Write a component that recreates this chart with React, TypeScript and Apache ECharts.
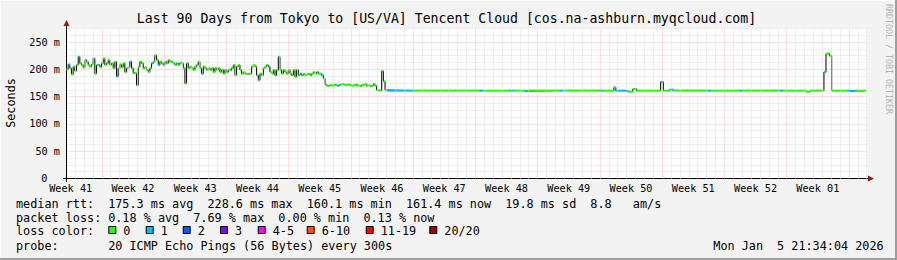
import React, { useEffect, useRef } from "react";
import * as echarts from "echarts";

// ---------- texts ----------
const TITLE = "Last 90 Days from Tokyo to [US/VA] Tencent Cloud [cos.na-ashburn.myqcloud.com]";
const Y_UNIT_LABEL = "Seconds";
const WATERMARK = "RRDTOOL / TOBI OETIKER";
const WEEK_LABELS = [
  "Week 41", "Week 42", "Week 43", "Week 44", "Week 45", "Week 46", "Week 47",
  "Week 48", "Week 49", "Week 50", "Week 51", "Week 52", "Week 01",
];
const Y_MAX_MS = 275;
const Y_MINOR_STEP_MS = 12.5;
const Y_LABEL_STEP_MS = 50;

// ---------- time base (days from the left edge of the 90-day window) ----------
const SPAN_DAYS = 90;
const WEEK42_START_DAY = 3.97; // first Monday boundary inside the window
const SAMPLE_STEP_DAYS = 0.1875; // 4.5 h consolidated samples
const LAST_SAMPLE_END_DAY = 89.9;

// ---------- median RTT (ms), one value per sample ----------
const RTT_WEEK41_42 = [
  200, 209, 202, 191, 205, 197, 208, 223, 211, 208, 203, 217, 214, 208, 205, 209, 220, 192,
  208, 208, 204, 211, 220, 208, 211, 217, 208, 211, 202, 214, 187, 202, 209, 204, 211, 195,
  202, 204, 214, 202, 193, 193, 171, 204, 214, 211, 202, 204, 199, 195, 202, 211, 214,
];
const RTT_WEEK43_44 = [
  226, 217, 208, 214, 211, 208, 214, 211, 217, 214, 214, 211, 208, 211, 208, 212, 211, 202,
  174, 211, 202, 205, 202, 199, 205, 208, 214, 202, 192, 205, 202, 199, 202, 199, 202, 195,
  202, 199, 202, 195, 199, 192, 199, 195, 199, 198, 202, 208, 189, 205, 208, 199,
];
const RTT_WEEK44_45 = [
  192, 195, 192, 191, 192, 192, 205, 208, 205, 189, 180, 192, 189, 202, 205, 208, 205, 195,
  192, 199, 189, 199, 223, 199, 192, 199, 195, 192, 199, 192, 189, 199, 186, 199, 189, 192,
  189, 191, 189, 191, 192, 189, 192, 195, 192, 195, 192, 192, 189, 183,
];
const RTT_WEEK45_46 = [
  172, 170, 169, 171, 170, 172, 171, 170, 171, 172, 173, 172, 171, 172, 172, 171, 170, 171,
  172, 170, 171, 169, 171, 172, 173, 170, 171, 169, 170, 173, 170,
  162, 161, 161, 197, 178, 162,
];
// sample indices (in the samples above) whose loss was 1/20
const LOSS1_SAMPLE_INDEX = [1, 7, 16, 19, 30, 38, 42, 51, 55, 58, 64, 81, 96, 121, 125, 127, 140, 150, 153, 162, 163];

// ---------- later, mostly flat period: change points ----------
const FLAT_DAYS = [
  36.0, 38.93, 46.46, 46.8, 49.84, 50.17, 51.52, 51.86, 55.46, 55.8, 59.96, 60.3,
  61.54, 61.76, 62.88, 63.1, 63.67, 64.1, 66.8, 67.1, 67.84, 68.18, 72.1, 72.45,
  75.7, 76.05, 80.2, 80.55, 83.14, 83.59, 85.16, 85.39, 85.78, 86.03, 87.86, 88.1, 88.65,
];
const FLAT_RTT = [
  161, 161, 161, 161, 161, 161, 160, 161, 161, 161, 161, 161,
  167, 161, 160, 159, 164, 161, 177, 161, 163, 161, 161, 161,
  161, 161, 161, 161, 159, 161, 195, 228.6, 225, 161, 161, 160, 161,
];
const FLAT_LOSS = [
  1, 0, 1, 0, 1, 0, 1, 0, 1, 0, 1, 0,
  0, 1, 1, 0, 0, 0, 1, 0, 1, 0, 1, 0,
  1, 0, 1, 0, 0, 0, 1, 0, 0, 0, 1, 1, 0,
];

// ---------- legend ----------
const LOSS_COLORS = ["#26ff00", "#00b8ff", "#0059ff", "#7e00ff", "#ff00ff", "#ff5500", "#ff0000", "#a10000"];
const LOSS_LABELS = ["0", "1", "2", "3", "4-5", "6-10", "11-19", "20/20"];
const RTT_STATS = ["175.3 ms avg", "228.6 ms max", "160.1 ms min", "161.4 ms now", "19.8 ms sd"];
const RTT_AMS = "8.8";
const LOSS_STATS = ["0.18 % avg", "7.69 % max", "0.00 % min", "0.13 % now"];
const PROBE_TEXT = "20 ICMP Echo Pings (56 Bytes) every 300s";
const DATE_PARTS = ["Mon Jan", "5 21:34:04 2026"];

const MONO = '"DejaVu Sans Mono", monospace';

export default function App() {
  const ref = useRef<HTMLDivElement>(null);

  useEffect(() => {
    if (!ref.current) return;
    const chart = echarts.init(ref.current, undefined, { renderer: "svg" });

    // samples
    const noisy = [...RTT_WEEK41_42, ...RTT_WEEK43_44, ...RTT_WEEK44_45, ...RTT_WEEK45_46];
    const samples: { t: number; v: number; loss: number }[] = [];
    noisy.forEach((v, i) =>
      samples.push({ t: i * SAMPLE_STEP_DAYS, v, loss: LOSS1_SAMPLE_INDEX.includes(i) ? 1 : 0 })
    );
    FLAT_DAYS.forEach((t, i) => samples.push({ t, v: FLAT_RTT[i], loss: FLAT_LOSS[i] }));

    const segs = samples.map((s, i) => [
      s.t,
      i + 1 < samples.length ? samples[i + 1].t : LAST_SAMPLE_END_DAY,
      s.v,
      s.loss,
    ]);
    const stepData = samples.map((s) => [s.t, s.v]);
    stepData.push([LAST_SAMPLE_END_DAY, samples[samples.length - 1].v]);

    // vertical grid (daily minor, weekly major)
    const minorColor = "#dedede";
    const majorColor = "#f8bcbc";
    const vLines: any[] = [];
    for (let n = 0; ; n++) {
      const d = WEEK42_START_DAY - 3 + n;
      if (d > SPAN_DAYS) break;
      const major = (n - 3) % 7 === 0;
      vLines.push({
        xAxis: d,
        lineStyle: { color: major ? majorColor : minorColor, type: [1, 1], width: 1 },
      });
    }
    const weekLabelDays = WEEK_LABELS.map((_, k) => WEEK42_START_DAY - 3.5 + 7 * k);

    // legend graphics
    const CH = 7.09;
    const LX = 16;
    const legendFont = `11.8px ${MONO}`;
    const txt = (text: string, x: number, y: number, extra: any = {}) => ({
      type: "text",
      x,
      y,
      silent: true,
      style: {
        text,
        font: legendFont,
        fill: "#000",
        textAlign: "left",
        textVerticalAlign: "middle",
        align: "left",
        verticalAlign: "middle",
        ...extra,
      },
    });
    const L1 = 204, L2 = 218.3, L3 = 231.3, L4 = 246.3;
    const graphics: any[] = [];
    // frame
    graphics.push({ type: "rect", shape: { x: 0, y: 0, width: 897, height: 1 }, style: { fill: "#fdfdfd" }, silent: true });
    graphics.push({ type: "rect", shape: { x: 0, y: 0, width: 1, height: 260 }, style: { fill: "#fdfdfd" }, silent: true });
    graphics.push({ type: "rect", shape: { x: 895, y: 0, width: 2, height: 260 }, style: { fill: "#9e9e9e" }, silent: true });
    graphics.push({ type: "rect", shape: { x: 0, y: 258, width: 897, height: 2 }, style: { fill: "#9e9e9e" }, silent: true });
    // title, unit, watermark
    graphics.push(txt(TITLE, 446.5, 18.5, { font: `13.2px ${MONO}`, textAlign: "center", align: "center" }));
    graphics.push({
      type: "text", x: 11, y: 103, rotation: Math.PI / 2, silent: true,
      style: { text: Y_UNIT_LABEL, font: legendFont, fill: "#000", textAlign: "center", textVerticalAlign: "middle", align: "center", verticalAlign: "middle" },
    });
    graphics.push({
      type: "text", x: 889, y: 59, rotation: -Math.PI / 2, silent: true,
      style: { text: WATERMARK, font: `8.3px ${MONO}`, fill: "#b4b4b4", textAlign: "center", textVerticalAlign: "middle", align: "center", verticalAlign: "middle" },
    });
    // axis arrows and extensions
    graphics.push({ type: "line", shape: { x1: 63, y1: 178.5, x2: 67, y2: 178.5 }, style: { stroke: "#000", lineWidth: 1 }, silent: true });
    graphics.push({ type: "line", shape: { x1: 66.5, y1: 178, x2: 66.5, y2: 182 }, style: { stroke: "#000", lineWidth: 1 }, silent: true });
    graphics.push({ type: "line", shape: { x1: 66.5, y1: 28.4, x2: 66.5, y2: 25 }, style: { stroke: "#000", lineWidth: 1 }, silent: true });
    graphics.push({ type: "line", shape: { x1: 866, y1: 178.5, x2: 869, y2: 178.5 }, style: { stroke: "#000", lineWidth: 1 }, silent: true });
    graphics.push({ type: "polygon", shape: { points: [[63.5, 26], [69.5, 26], [66.5, 20]] }, style: { fill: "#8e1b1b" }, silent: true });
    graphics.push({ type: "polygon", shape: { points: [[868, 175.5], [868, 181.5], [874, 178.5]] }, style: { fill: "#8e1b1b" }, silent: true });
    // line 1
    graphics.push(txt("median rtt:", LX, L1));
    RTT_STATS.forEach((s, i) => graphics.push(txt(s, LX + (13 + 14 * i) * CH, L1)));
    graphics.push(txt(RTT_AMS, LX + 81 * CH, L1));
    graphics.push(txt("am/s", LX + 87 * CH, L1));
    // line 2
    graphics.push(txt("packet loss:", LX, L2));
    LOSS_STATS.forEach((s, i) => graphics.push(txt(s, LX + (13 + 12 * i) * CH, L2)));
    // line 3
    graphics.push(txt("loss color:", LX, L3));
    const sqX = [108.3, 145.7, 182.7, 220, 257.7, 306.7, 365.7, 429.3];
    LOSS_COLORS.forEach((c, i) => {
      graphics.push({
        type: "rect", silent: true,
        shape: { x: sqX[i] + 0.5, y: 226.5, width: 7, height: 7 },
        style: { fill: c, stroke: "#000", lineWidth: 1 },
      });
      graphics.push(txt(LOSS_LABELS[i], sqX[i] + 15, L3));
    });
    // line 4
    graphics.push(txt("probe:", LX, L4));
    graphics.push(txt(PROBE_TEXT, LX + 13 * CH, L4));
    graphics.push(txt(DATE_PARTS[0], 713.3, L4));
    graphics.push(txt(DATE_PARTS[1], 713.3 + 9 * CH, L4));

    const option: any = {
      animation: false,
      backgroundColor: "#f3f3f3",
      grid: {
        left: 66.5,
        right: 30,
        top: 28.4,
        bottom: 81.5,
        show: true,
        backgroundColor: "#ffffff",
        borderWidth: 0,
        containLabel: false,
      },
      xAxis: {
        type: "value",
        min: 0,
        max: SPAN_DAYS,
        splitLine: { show: false },
        axisTick: { show: false },
        axisLine: { show: true, onZero: false, lineStyle: { color: "#000", width: 1 } },
        axisLabel: {
          customValues: weekLabelDays,
          margin: 5,
          fontFamily: MONO,
          fontSize: 10.2,
          color: "#000",
          formatter: (v: number) => WEEK_LABELS[Math.round((v - (WEEK42_START_DAY - 3.5)) / 7)] ?? "",
        },
      },
      yAxis: {
        type: "value",
        min: 0,
        max: Y_MAX_MS,
        interval: Y_MINOR_STEP_MS,
        axisLine: { show: true, lineStyle: { color: "#000", width: 1 } },
        axisTick: { show: false },
        splitLine: {
          show: true,
          lineStyle: { color: [majorColor, minorColor, minorColor, minorColor], type: [1, 1], width: 1 },
        },
        axisLabel: {
          margin: 6.5,
          fontFamily: MONO,
          fontSize: 10.2,
          color: "#000",
          formatter: (v: number) => {
            if (Math.abs(v % Y_LABEL_STEP_MS) > 1e-6) return "";
            return v === 0 ? "{z|0}" : `${v} m`;
          },
          rich: {
            z: { fontFamily: MONO, fontSize: 10.2, color: "#000", padding: [0, 12.5, 0, 0] },
          },
        },
      },
      series: [
        {
          type: "line",
          data: [[0, -10]],
          z: 1,
          silent: true,
          showSymbol: false,
          lineStyle: { opacity: 0 },
          markLine: {
            silent: true,
            symbol: ["none", "none"],
            label: { show: false },
            animation: false,
            emphasis: { disabled: true },
            data: vLines,
          },
        },
        {
          type: "line",
          step: "end",
          data: stepData,
          z: 3,
          silent: true,
          showSymbol: false,
          lineStyle: { color: "#000000", width: 1 },
        },
        {
          type: "custom",
          z: 4,
          silent: true,
          data: segs,
          encode: { x: [0, 1], y: 2 },
          renderItem: (_p: any, api: any) => {
            const a = api.coord([api.value(0), api.value(2)]);
            const b = api.coord([api.value(1), api.value(2)]);
            return {
              type: "line",
              shape: { x1: a[0], y1: a[1], x2: b[0], y2: b[1] },
              style: { stroke: LOSS_COLORS[api.value(3)], lineWidth: 2 },
            };
          },
        },
      ],
      graphic: { elements: graphics },
    };

    chart.setOption(option);
    return () => chart.dispose();
  }, []);

  return (
    <div
      ref={ref}
      style={{ position: "fixed", left: 0, top: 0, width: 897, height: 260 }}
    />
  );
}
